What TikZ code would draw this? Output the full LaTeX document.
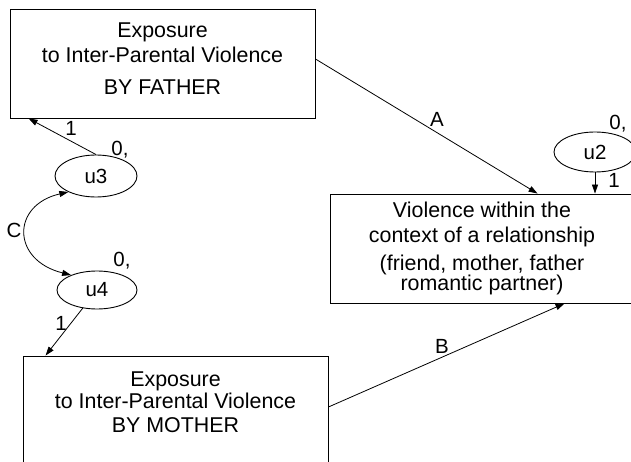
\documentclass[tikz,border=0pt]{standalone}
\usepackage{fontspec}
\setmainfont{Liberation Sans}
\usetikzlibrary{arrows.meta,shapes.geometric}
\begin{document}
\begin{tikzpicture}[x=1pt,y=-1pt,
  box/.style={draw, line width=0.9pt, minimum width=305pt, minimum height=109pt, inner sep=0pt},
  err/.style={draw, ellipse, line width=0.9pt, inner sep=0pt, font=\fontsize{20.5}{24}\selectfont},
  txt/.style={anchor=base, inner sep=0pt, font=\fontsize{21.4}{25}\selectfont},
  lbl/.style={inner sep=0pt, font=\fontsize{20.5}{24}\selectfont},
  arr/.style={line width=0.8pt, -{Triangle[length=9pt,width=6pt]}},
  arrtwo/.style={line width=0.8pt, {Triangle[length=9pt,width=6pt]}-{Triangle[length=9pt,width=6pt]}}]
\useasboundingbox (0,0) rectangle (631,462);
\clip (0,0) rectangle (631,462);
% boxes
\node[box] (fa) at (162.5,63.5) {};
\node[box] (fr) at (482.5,248.5) {};
\node[box] (fm) at (175.5,410.5) {};
% box texts
\node[txt] (fa1) at (162.5,38) {Exposure};
\node[txt] (fa2) at (162.5,63) {to Inter-Parental Violence};
\node[txt] (fa3) at (162.5,95) {BY FATHER};
\node[txt] (fm1) at (175.5,386) {Exposure};
\node[txt] (fm2) at (175.5,408) {to Inter-Parental Violence};
\node[txt] (fm3) at (175.5,432) {BY MOTHER};
\node[txt] (fr1) at (482,218) {Violence within the};
\node[txt] (fr2) at (482,243) {context of a relationship};
\node[txt] (fr3) at (482,270) {(friend, mother, father};
\node[txt] (fr4) at (482,290) {romantic partner)};
% error terms
\node[err, minimum width=82pt, minimum height=42pt] (u3) at (96,176) {u3};
\node[err, minimum width=80pt, minimum height=38pt] (u4) at (97,290) {u4};
\node[err, minimum width=82pt, minimum height=40pt] (u2) at (595,152) {u2};
% connectors
\draw[arr] (u3.north) -- ([xshift=19pt]fa.south west);
\draw[arr] ([yshift=4.5pt]fa.east) -- ([xshift=208pt]fr.north west);
\draw[arr] ([yshift=3.5pt]fm.east) -- ([xshift=235pt]fr.south west);
\draw[arr] (u2.south) -- (u2.south |- fr.north);
\draw[arr] (u4) -- ([xshift=23pt]fm.north west);
\draw[arrtwo] (u3.-150) .. controls +(-57,13) and +(-60,-15) .. (u4.150);
% labels
\node[lbl] (l1) at (71,128) {1};
\node[lbl] (z3) at (120,150) {0,};
\node[lbl] (lc) at (14,230) {C};
\node[lbl] (z4) at (122,261) {0,};
\node[lbl] (l4) at (61,323) {1};
\node[lbl] (la) at (437,119) {A};
\node[lbl] (lb) at (442,346) {B};
\node[lbl] (z2) at (618,124) {0,};
\node[lbl] (l2) at (614,180) {1};
\end{tikzpicture}
\end{document}
